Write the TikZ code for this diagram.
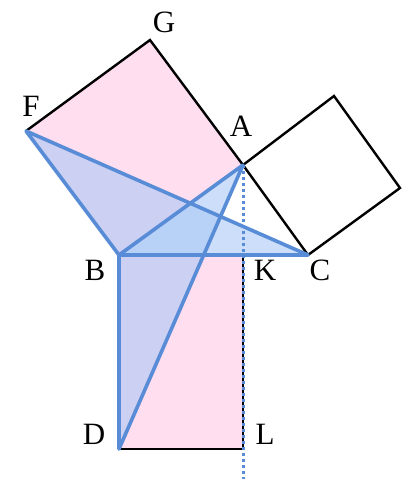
\documentclass[tikz,border=0pt]{standalone}
\usepackage{fontspec}
\setmainfont{Liberation Serif}
\begin{document}
\begin{tikzpicture}[x=1pt,y=1pt,
  lab/.style={font=\fontsize{31}{31}\selectfont}]
\definecolor{bl}{RGB}{88,140,214}
\definecolor{bf}{RGB}{170,200,245}
\definecolor{pk}{RGB}{255,222,240}
\useasboundingbox (0,0) rectangle (405,-479);
\coordinate (B) at (119,-255); \coordinate (C) at (308,-255);
\coordinate (A) at (243,-165); \coordinate (K) at (243,-255);
\coordinate (F) at (26,-131); \coordinate (G) at (150,-40);
\coordinate (P) at (400,-188); \coordinate (Q) at (334,-96);
\coordinate (D) at (119,-449); \coordinate (L) at (243,-449);
\coordinate (E) at (243,-479);
\fill[pk] (B)--(A)--(G)--(F)--cycle;
\fill[pk] (B)--(K)--(L)--(D)--cycle;
\draw[line width=2.4pt] (F)--(G)--(A)--(C)--(P)--(Q)--(A);
\draw[line width=2.4pt] (D)--(L)--(K);
\fill[bf, opacity=0.6] (F)--(B)--(C)--cycle;
\fill[bf, opacity=0.6] (A)--(B)--(D)--cycle;
\draw[bl, line width=3.6pt, line join=round] (F)--(B)--(C)--cycle;
\draw[bl, line width=3.6pt, line join=round] (A)--(B)--(D)--cycle;
\draw[bl, line width=3pt, dash pattern=on 3pt off 3pt] (A)--(E);
\node[lab] (lF) at (31,-106) {F};
\node[lab] (lG) at (164,-22) {G};
\node[lab] (lA) at (241,-126) {A};
\node[lab] (lB) at (95,-270) {B};
\node[lab] (lK) at (265,-270) {K};
\node[lab] (lC) at (320,-270) {C};
\node[lab] (lD) at (94,-434) {D};
\node[lab] (lL) at (265,-434) {L};
\end{tikzpicture}
\end{document}
